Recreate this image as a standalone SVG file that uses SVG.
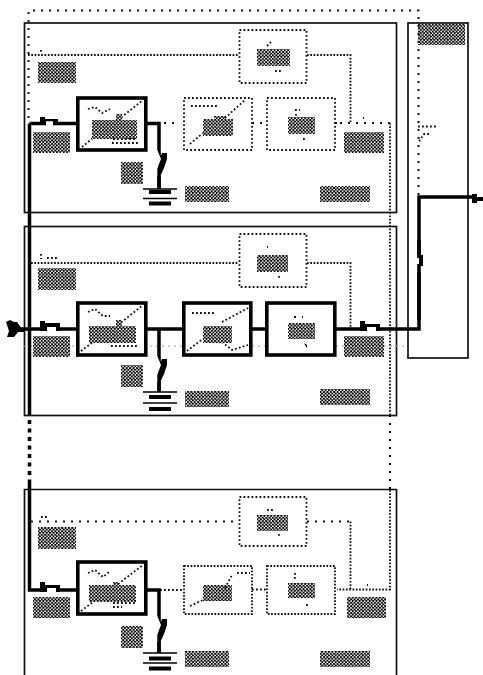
<svg xmlns="http://www.w3.org/2000/svg" width="483" height="675" viewBox="0 0 483 675">
<style>
.panel{fill:none;stroke:#111;stroke-width:1.7}
.pw{fill:none;stroke:#000;stroke-width:3.5}
.conv{fill:#fff;stroke:#000;stroke-width:3.6}
.sp{fill:none;stroke:#111;stroke-width:2;stroke-dasharray:2 6}
.dn{fill:none;stroke:#111;stroke-width:1.8;stroke-dasharray:1.7 1.6}
.md{fill:none;stroke:#111;stroke-width:1.8;stroke-dasharray:1.8 2.2}
.h{fill:url(#hatch)}
.blob{fill:#000}
.w{fill:#fff}
</style>
<defs>
<pattern id="hatch" width="3.400" height="3.400" patternUnits="userSpaceOnUse">
<rect width="3.400" height="3.400" fill="#fff"/>
<rect width="2" height="2" fill="#000"/>
<rect x="1.700" y="1.700" width="1.700" height="1.700" fill="#000"/>
</pattern>
</defs>
<g id="panel-1"><rect class="panel" x="24.5" y="23" width="372" height="189.5"/></g>
<g id="panel-2"><rect class="panel" x="24.5" y="226.5" width="372" height="189"/></g>
<g id="panel-3"><path class="panel" d="M24.500 675V489.500H396.500V675"/></g>
<g id="right-box"><rect class="panel" x="408" y="23" width="60" height="335"/><rect class="h" x="418" y="24" width="47" height="21"/></g>
<g id="connectors">
<path class="sp" d="M28.500 118V10.500H418.500V197"/>
<path class="dn" d="M28 55H239M307 55H350.500V123"/>
<path class="sp" d="M340 123H390"/>
<path class="dn" d="M390 123V415"/>
<path class="sp" d="M390 415V490"/>
<path class="dn" d="M390 490V589.500H337"/>
<path class="dn" d="M31 263H239M307 263H350.500V329"/>
<path class="sp" d="M31 521.500H239M307 521.500H350.500"/>
<path class="dn" d="M350.500 521.500V589"/>
<path class="sp" d="M148 123H180"/>
<path class="md" d="M148 590H183"/>
<path class="sp" d="M252 123H267"/>
<path class="md" d="M252 589.500H267"/>
<path class="sp" d="M335 123H340"/>
<path d="M24 346H408" fill="none" stroke="#999" stroke-width="1" stroke-dasharray="2 4"/>
<path class="pw" d="M29.500 123.500V415"/>
<path class="pw" d="M29.500 123.500H77M146 123.500H159V189"/>
<path d="M29.500 420V481" fill="none" stroke="#000" stroke-width="3.600" stroke-dasharray="4 4.500"/>
<path class="pw" d="M29.500 481V590H77M146 590H159V653"/>
<path class="pw" d="M15 329H77M146 329H183M251 329H266M336 329H419V197H472"/>
<path class="pw" d="M159 329V392"/>
<path class="blob" d="M6 322L10 320L14 322L17 322L22 329H24V332H18L14 337H7L9 331Z"/>
<path class="blob" d="M472 194H477V197H483V201H477V203H472Z"/>
<path class="w" d="M46 122H53V126H46Z"/><path class="blob" d="M40 117H45V119H58V123H53V121H46V125H40Z"/>
<path class="w" d="M47 327H56V331H47Z"/><path class="blob" d="M40 321H45V323H60V331H56V327H47V331H40Z"/>
<path class="w" d="M367 327H376V331H367Z"/><path class="blob" d="M360 321H365V324H380V331H376V327H367V331H360Z"/>
<path class="w" d="M47 588H56V592H47Z"/><path class="blob" d="M40 582H45V585H60V592H56V588H47V592H40Z"/>
<path class="w" d="M155 150H170V176H155Z"/><path class="blob" d="M157.300 150H160.800V156L162 153H167V159L164 168L160.800 175V189H157.300V169L159 164L161 159Z"/>
<path class="w" d="M155 356H170V382H155Z"/><path class="blob" d="M157.300 356H160.800V362L162 359H167V365L164 374L160.800 381V392H157.300V375L159 370L161 365Z"/>
<path class="w" d="M155 616H170V642H155Z"/><path class="blob" d="M157.300 616H160.800V622L162 619H167V625L164 634L160.800 641V653H157.300V635L159 630L161 625Z"/>
<path class="w" d="M415 255H425V272H415Z"/><path class="blob" d="M417.200 240H420.800V255H423V266H420.800V272H417.200V264H419V258H417.200Z"/><path class="blob" d="M417.200 272H420.800V320H417.200Z"/>
<path class="md" d="M418 126.500H437M429 134H424L418 143"/>
</g>
<g id="labels-1">
<rect class="h" x="38" y="62" width="38" height="21"/><rect class="h" x="33" y="132" width="37" height="21"/><rect class="h" x="121" y="162" width="22" height="22"/><rect class="h" x="185" y="186" width="44" height="16"/><rect class="h" x="344" y="132" width="40" height="21"/><rect class="h" x="320" y="186" width="50" height="16"/>
</g>
<g id="labels-2">
<rect class="h" x="38" y="268" width="38" height="22"/><rect class="h" x="33" y="336" width="37" height="21"/><rect class="h" x="121" y="365" width="22" height="22"/><rect class="h" x="185" y="391" width="44" height="16"/><rect class="h" x="344" y="336" width="40" height="21"/><rect class="h" x="320" y="389" width="50" height="16"/>
</g>
<g id="labels-3">
<rect class="h" x="38" y="527" width="38" height="22"/><rect class="h" x="33" y="597" width="37" height="21"/><rect class="h" x="121" y="626" width="22" height="22"/><rect class="h" x="185" y="651" width="44" height="16"/><rect class="h" x="347" y="597" width="39" height="21"/><rect class="h" x="320" y="651" width="50" height="16"/>
</g>
<g id="ground-1"><path d="M143 189H177M143 198.500H177" stroke="#000" stroke-width="1.700"/><path d="M149 192H171M149 203.500H171" stroke="#000" stroke-width="4"/></g>
<g id="ground-2"><path d="M143 392H177M143 403H177" stroke="#000" stroke-width="1.700"/><path d="M149 397H171M149 409H171" stroke="#000" stroke-width="4"/></g>
<g id="ground-3"><path d="M143 653H177M143 663H177" stroke="#000" stroke-width="1.700"/><path d="M149 658.500H171M149 668.500H171" stroke="#000" stroke-width="4"/></g>
<g id="converter-1">
<rect class="conv" x="77.800" y="98" width="68" height="52"/>
<path class="md" d="M82 147L93 138M118 120L143 100"/><rect class="h" x="92" y="120" width="45" height="19"/><rect class="h" x="116" y="114" width="6" height="7"/><path class="md" d="M88 109L95 107L102 113L110 109M112 143H138M113 139H137"/>
</g>
<g id="converter-2">
<rect class="conv" x="77.800" y="303" width="68" height="52"/>
<path class="md" d="M81 351L93 342M118 325L143 305"/><rect class="h" x="89" y="326" width="47" height="17"/><rect class="h" x="116" y="320" width="6" height="7"/><path class="md" d="M88 312L95 309L103 316L110 316M111 346H137"/>
</g>
<g id="converter-3">
<rect class="conv" x="77.800" y="562" width="68" height="52"/>
<path class="md" d="M81 611L93 602M118 584L143 565"/><rect class="h" x="89" y="585" width="47" height="17"/><rect class="h" x="113" y="582" width="6" height="5"/><path class="md" d="M88 573L95 570L103 577L109 572M113 603H136M113 607H122"/>
</g>
<g id="converter-4">
<rect class="conv" x="183.800" y="303" width="67" height="52"/>
<path class="md" d="M187 351L204 338M222 322L248 308M222 342L232 350L248 345"/><rect class="h" x="203" y="326" width="29" height="17"/><path class="md" d="M192 313H215"/>
</g>
<g id="converter-5">
<rect class="conv" x="266.800" y="303" width="68" height="52"/>
<rect class="h" x="288" y="323" width="27" height="16"/><path class="blob" d="M304 343L307 345V348L305 345Z"/><path class="sp" d="M294 317H303"/>
</g>
<g id="top-box-1"><rect class="md" x="239.500" y="30" width="67" height="53"/><rect class="h" x="257" y="49" width="33" height="17"/><path class="md" d="M267 46L271 42M275 71H281"/></g>
<g id="top-box-2"><rect class="md" x="239.500" y="234" width="67" height="53"/><rect class="h" x="257" y="255" width="31" height="17"/><path class="md" d="M267 247H268M279 276V279"/></g>
<g id="top-box-3"><rect class="md" x="239.500" y="497" width="67" height="49"/><rect class="h" x="257" y="515" width="31" height="16"/><path class="md" d="M267 510H273M279 534V538"/></g>
<g id="box-a-1"><rect class="md" x="184" y="98" width="68" height="52"/><rect class="h" x="203" y="119" width="30" height="17"/><rect class="h" x="214" y="116" width="12" height="5"/><path class="md" d="M190 144L203 133M225 118L245 100M191 106H218"/></g>
<g id="box-b-1"><rect class="md" x="267" y="98" width="68" height="52"/><rect class="h" x="288" y="117" width="27" height="17"/><path class="md" d="M295 110H300M296 114V116M303 139H305"/></g>
<g id="box-a-3"><rect class="dn" x="184" y="566" width="68" height="48"/><rect class="h" x="203" y="585" width="29" height="16"/><path class="md" d="M190 606L203 600M225 588L232 575M237 573H250"/></g>
<g id="box-b-3"><rect class="dn" x="267" y="566" width="68" height="48"/><rect class="h" x="288" y="583" width="27" height="15"/><path class="md" d="M295 573V579M306 605H308"/></g>
<path class="md" d="M41 50V52M41 254V259M47 258H58M41 517H49M363 118H364M367 585H368"/>
</svg>
